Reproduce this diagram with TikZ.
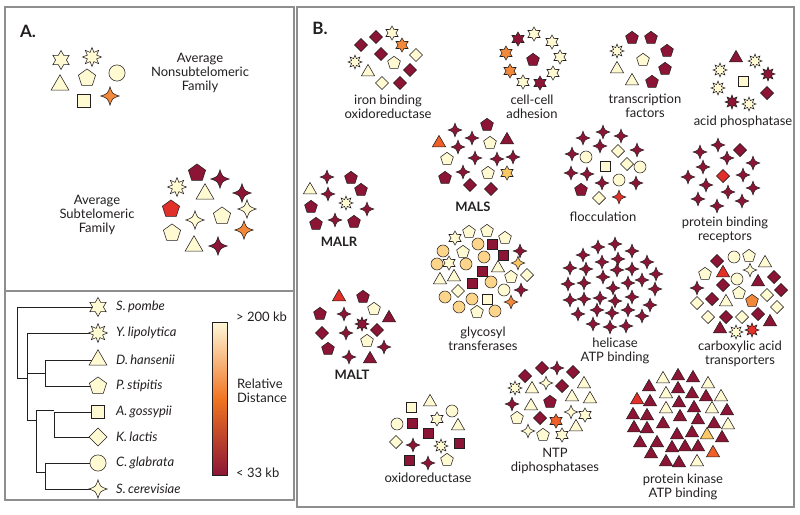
\documentclass[tikz,border=0pt]{standalone}
\usepackage{fontspec}
\setmainfont{Lato}
\usepackage{tikz}
\usetikzlibrary{positioning}
\definecolor{ink}{HTML}{231F20}
\definecolor{frame}{HTML}{8E8E8E}
\definecolor{cream}{HTML}{FFFAD2}
\definecolor{maroon}{HTML}{8C1535}
\definecolor{cred}{HTML}{E1302A}
\definecolor{corange}{HTML}{F2893A}
\definecolor{cflame}{HTML}{EE6028}
\definecolor{cgold}{HTML}{FBC866}
\definecolor{cpeach}{HTML}{FDD58A}
\definecolor{barmid}{HTML}{F07522}
\definecolor{bartop}{HTML}{FFF8DA}

\tikzset{
  mk/.style={draw=ink,line width=0.55pt},
  pics/circ/.style={code={\path[mk,pic actions] (0,0) circle [radius=6];}},
  pics/sq/.style={code={\path[mk,pic actions] (-4.9,-4.9) rectangle (4.9,4.9);}},
  pics/dia/.style={code={\path[mk,pic actions] (0,-6.6) -- (6.6,0) -- (0,6.6) -- (-6.6,0) -- cycle;}},
  pics/tri/.style={code={\path[mk,pic actions] (-90:7.6) -- (30:7.6) -- (150:7.6) -- cycle;}},
  pics/pent/.style={code={\path[mk,pic actions] (-90:6.7) -- (-18:6.7) -- (54:6.7) -- (126:6.7) -- (198:6.7) -- cycle;}},
  pics/six/.style={code={\path[mk,pic actions] (90:7) \foreach \a in {90,150,...,390} {-- (\a+30:4) -- (\a+60:7)} -- cycle;}},
  pics/eight/.style={code={\path[mk,pic actions] (0:7) \foreach \a in {0,45,...,315} {-- (\a+22.5:3.7) -- (\a+45:7)} -- cycle;}},
  pics/four/.style={code={\path[mk,pic actions] (0,-6.8) .. controls (1.7,-1.7) .. (6.8,0) .. controls (1.7,1.7) .. (0,6.8) .. controls (-1.7,1.7) .. (-6.8,0) .. controls (-1.7,-1.7) .. (0,-6.8) -- cycle;}},
  lab/.style={font=\fontsize{13}{14}\selectfont,text=ink,align=center,inner sep=0pt},
  hd/.style={font=\fontsize{17}{19}\selectfont\bfseries,text=ink,inner sep=0pt},
  gene/.style={font=\fontsize{13}{14}\selectfont\bfseries,text=ink,inner sep=0pt},
  sp/.style={font=\fontsize{13}{14}\selectfont\itshape,text=ink,inner sep=0pt},
  tree/.style={draw=ink,line width=0.9pt},
  box/.style={draw=frame,line width=1.1pt}
}
% #1 scale, #2 shape, #3 fill, #4 x/y list
\newcommand\putmk[4][1]{\foreach \x/\y in {#4}{\pic[fill=#3,scale=#1] at (\x,\y) {#2};}}

\begin{document}
\begin{tikzpicture}[x=1pt,y=-1pt]
  \useasboundingbox (0,0) rectangle (800,514);
  % frames
  \draw[box] (5,7) rectangle (294,500);
  \draw[box] (5,291) -- (294,291);
  \draw[box] (297,7) rectangle (794,507);

  % ---- panel A
  \node[hd] (tA) at (28,31) {A.};
  \node[lab] (nonsub) at (200,73) {Average\\Nonsubtelomeric\\Family};
  \node[lab] (sub) at (97,215) {Average\\Subtelomeric\\Family};
  \putmk[1.35]{six}{cream}{61/60}
  \putmk[1.35]{eight}{cream}{92/57}
  \putmk[1.35]{tri}{cream}{60/85}
  \putmk[1.35]{pent}{cream}{87/78}
  \putmk[1.35]{circ}{cream}{117/73}
  \putmk[1.35]{sq}{cream}{84/101}
  \putmk[1.35]{four}{corange}{110/96}
  \putmk[1.35]{eight}{cream}{177/187}
  \putmk[1.35]{pent}{maroon}{197/173}
  \putmk[1.35]{four}{maroon}{220/179, 242/193, 218/246}
  \putmk[1.35]{tri}{cream}{205/194, 194/246}
  \putmk[1.35]{pent}{cred}{171/209}
  \putmk[1.35]{four}{cream}{247/209, 195/220}
  \putmk[1.35]{pent}{cream}{222/216, 172/233}
  \putmk[1.35]{four}{corange}{244/230}

  % ---- tree
  \foreach \i/\yy in {1/307,2/333,3/360,4/386,5/412,6/437,7/463,8/489}
    \coordinate (lf\i) at (98,\yy);
  \draw[tree] (lf1) -| (17,378) -- (27,378);
  \draw[tree] (lf2) -| (27,420) -- (36,420);
  \draw[tree] (lf3) -| (45,386) -- (lf4);
  \draw[tree] (27,373) -- (45,373);
  \draw[tree] (lf5) -| (54,437) -- (lf6);
  \draw[tree] (36,410) -- (54,410);
  \draw[tree] (36,410) -- (36,472) -- (45,472);
  \draw[tree] (lf7) -| (45,489) -- (lf8);
  \putmk[1.35]{six}{cream}{98/307}
  \putmk[1.35]{eight}{cream}{98/333}
  \putmk[1.35]{tri}{cream}{98/360}
  \putmk[1.35]{pent}{cream}{98/386}
  \putmk[1.35]{sq}{cream}{98/412}
  \putmk[1.35]{dia}{cream}{98/437}
  \putmk[1.35]{circ}{cream}{98/463}
  \putmk[1.35]{four}{cream}{98/489}
  \foreach \i/\nm in {1/S.\,pombe,2/Y.\,lipolytica,3/D.\,hansenii,4/P.\,stipitis,
                      5/A.\,gossypii,6/K.\,lactis,7/C.\,glabrata,8/S.\,cerevisiae}
    \node[sp,right=18pt of lf\i] (sp\i) {\nm};

  % colour bar
  \shade[top color=bartop,bottom color=barmid] (212,322) rectangle (227,398.5);
  \shade[top color=barmid,bottom color=maroon] (212,398.5) rectangle (227,475);
  \draw[ink,line width=0.8pt] (212,322) rectangle (227,475);
  \node[lab,anchor=west] (hi) at (236,317) {> 200 kb};
  \node[lab,anchor=west] (lo) at (236,473) {< 33 kb};
  \node[lab,anchor=west,align=left] (rel) at (237,391) {Relative\\Distance};

  % ---- panel B
  \node[hd] (tB) at (320,28) {B.};

  % iron binding oxidoreductase
  \putmk{dia}{maroon}{361/45, 376/37, 381/54, 410/70, 400/83}
  \putmk{six}{cream}{392/33}
  \putmk{six}{corange}{402/45}
  \putmk{dia}{cream}{416/55, 382/83}
  \putmk{eight}{cream}{355/62}
  \putmk{pent}{cream}{394/63}
  \putmk{tri}{cream}{368/72}
  \node[lab] (iron) at (388,107) {iron binding\\oxidoreductase};

  % cell-cell adhesion
  \putmk{six}{maroon}{518/39, 540/83}
  \putmk{six}{cream}{534/34, 552/42, 560/57, 553/73, 523/82}
  \putmk{six}{corange}{506/53, 510/71}
  \putmk{pent}{maroon}{533/60}
  \node[lab] (cell) at (532,107) {cell-cell\\adhesion};

  % transcription factors
  \putmk{pent}{maroon}{632/38, 651/38, 667/51, 665/69, 652/82}
  \putmk{eight}{cream}{617/51}
  \putmk{pent}{cream}{643/60}
  \putmk{tri}{cream}{617/69, 632/81}
  \node[lab] (trans) at (645,106) {transcription\\factors};

  % acid phosphatase
  \putmk{tri}{maroon}{736/58}
  \putmk{eight}{cream}{755/61, 720/70, 718/88, 749/104}
  \putmk{eight}{maroon}{768/74, 732/102}
  \putmk{sq}{cream}{743/81}
  \putmk{dia}{maroon}{767/93}
  \node[lab] (acid) at (743,122) {acid phosphatase};

  % MALS
  \putmk{pent}{maroon}{487/125, 445/178}
  \putmk{four}{maroon}{455/130, 472/138, 458/147, 475/158, 497/159, 513/157, 463/172}
  \putmk{tri}{cflame}{439/143}
  \putmk{pent}{cream}{490/143, 447/159, 488/173}
  \putmk{tri}{maroon}{507/140}
  \putmk{six}{cgold}{507/173}
  \putmk{dia}{maroon}{470/185, 491/189}
  \node[gene] (mals) at (473,207) {MALS};

  % flocculation
  \putmk{four}{maroon}{603/132, 583/138, 621/136, 600/146, 637/150, 572/154, 571/173, 587/174, 602/183, 636/183}
  \putmk{dia}{cream}{618/151, 627/164, 599/198}
  \putmk{circ}{cream}{586/157, 640/167, 619/180}
  \putmk{sq}{cream}{605/166}
  \putmk{pent}{maroon}{581/190}
  \putmk{four}{cred}{619/197}
  \node[lab] (floc) at (603,217) {flocculation};

  % protein binding receptors
  \putmk{four}{maroon}{718/145, 700/152, 727/158, 753/163, 703/167, 688/177, 743/175, 706/185, 753/188, 728/192, 698/199, 742/201, 717/206}
  \putmk{dia}{maroon}{740/150}
  \putmk{dia}{cred}{723/176}
  \node[lab] (pbr) at (725,230) {protein binding\\receptors};

  % MALR
  \putmk{four}{maroon}{327/177, 328/194, 367/209, 335/220}
  \putmk{pent}{maroon}{351/178, 361/190, 311/207, 316/224, 354/222}
  \putmk{tri}{cream}{310/190}
  \putmk{eight}{cream}{346/203}
  \node[gene] (malr) at (339,242) {MALR};

  % glycosyl transferases
  \putmk{six}{cream}{455/238, 449/263}
  \putmk{pent}{cream}{469/232, 487/231, 505/238, 463/252, 511/277, 477/312}
  \putmk{circ}{cpeach}{443/251, 478/244, 437/264, 466/264, 484/257, 491/282, 445/297, 472/299, 459/307, 495/311}
  \putmk{circ}{cream}{504/290}
  \putmk{sq}{maroon}{492/244, 503/255, 482/271, 472/283}
  \putmk{four}{maroon}{520/251, 521/290}
  \putmk{four}{cgold}{518/263}
  \putmk{four}{corange}{511/302}
  \putmk{tri}{cream}{440/280, 454/277, 498/268}
  \putmk{dia}{cream}{527/275, 458/291}
  \putmk{sq}{cream}{487/299}
  \node[lab] (glyco) at (483,339) {glycosyl\\transferases};

  % helicase ATP binding
  \putmk{four}{maroon}{598/247, 615/244, 632/251,
    583/255, 602/262, 618/259, 647/262,
    570/268, 586/269, 603/277, 617/270, 632/269, 656/274,
    568/284, 584/283, 613/288, 628/283, 642/280, 655/289,
    570/300, 584/299, 600/298, 615/301, 632/297, 650/305,
    578/314, 597/310, 612/313, 628/310, 642/316,
    593/324, 610/327, 626/326}
  \node[lab] (heli) at (615,351) {helicase\\ATP binding};

  % carboxylic acid transporters
  \putmk{dia}{maroon}{717/261, 774/277, 723/285, 781/290, 712/299, 726/317, 758/314}
  \putmk{circ}{cream}{734/257, 737/279}
  \putmk{pent}{cream}{749/256, 705/274, 739/293}
  \putmk{tri}{cream}{765/263, 726/302}
  \putmk{tri}{cred}{723/273}
  \putmk{four}{cream}{750/270}
  \putmk{tri}{maroon}{758/282, 770/322, 720/329}
  \putmk{four}{maroon}{697/288}
  \putmk{dia}{cream}{767/295, 697/303, 777/307, 708/317, 742/317}
  \putmk{pent}{corange}{752/301}
  \putmk{eight}{cream}{736/332}
  \putmk{eight}{cred}{752/330}
  \node[lab] (carb) at (740,354) {carboxylic acid\\transporters};

  % MALT
  \putmk{tri}{cred}{339/297}
  \putmk{pent}{maroon}{363/297, 320/314, 328/349}
  \putmk{pent}{cream}{374/309, 367/341}
  \putmk{four}{maroon}{344/314, 346/333, 384/347, 349/357}
  \putmk{tri}{maroon}{389/318, 370/359}
  \putmk{eight}{maroon}{362/324}
  \putmk{dia}{maroon}{322/333, 377/330}
  \node[gene] (malt) at (352,375) {MALT};

  % oxidoreductase
  \putmk{sq}{cream}{411/407}
  \putmk{tri}{cream}{430/402, 458/426}
  \putmk{circ}{cream}{452/411, 397/424}
  \putmk{sq}{maroon}{412/423, 428/433, 459/443, 409/460}
  \putmk{six}{cream}{437/419}
  \putmk{dia}{cream}{396/442}
  \putmk{four}{maroon}{413/445, 428/463}
  \putmk{eight}{cream}{441/446}
  \putmk{pent}{cream}{447/460}
  \node[lab] (oxi) at (428,478) {oxidoreductase};

  % NTP diphosphatases
  \putmk{dia}{maroon}{525/376, 542/368, 573/372, 562/386, 540/418}
  \putmk{four}{maroon}{557/368, 512/404}
  \putmk{eight}{cream}{515/388}
  \putmk{four}{cream}{546/383, 571/412, 528/431}
  \putmk{tri}{cream}{532/389, 584/384, 531/406, 572/397, 590/399, 576/427}
  \putmk{pent}{maroon}{550/402}
  \putmk{pent}{cream}{517/418, 543/435}
  \putmk{six}{cflame}{556/421}
  \putmk{six}{cream}{585/415, 562/435}
  \node[lab] (ntp) at (555,461) {NTP\\diphosphatases};

  % protein kinase ATP binding
  \putmk{tri}{cream}{663/379, 708/384, 666/394, 721/397, 666/409, 712/409, 728/425, 697/462}
  \putmk{tri}{maroon}{678/376, 693/378, 649/387, 678/389, 692/394, 706/397,
    650/402, 679/403, 694/408, 727/411, 633/415, 647/416, 680/417, 698/420,
    714/424, 634/428, 647/429, 663/424, 677/435, 692/433, 722/438,
    640/443, 657/443, 672/448, 685/447, 698/447, 651/454, 666/462, 679/463}
  \putmk{tri}{cred}{637/400}
  \putmk{tri}{cgold}{707/435}
  \putmk{tri}{cflame}{713/453}
  \node[lab] (kin) at (683,487) {protein kinase\\ATP binding};
\end{tikzpicture}
\end{document}
